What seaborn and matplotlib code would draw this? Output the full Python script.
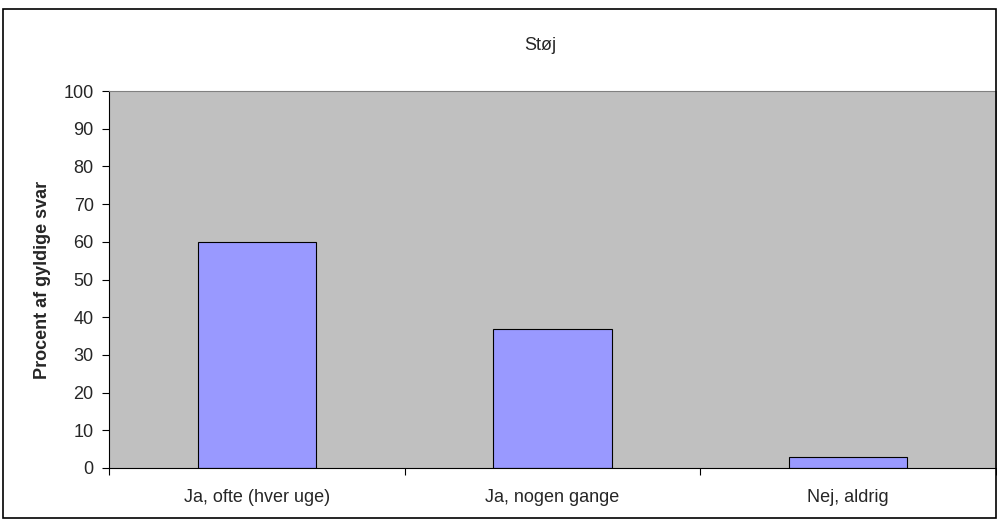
import seaborn as sns
import matplotlib.pyplot as plt
import matplotlib.patches as patches

categories = ['Ja, ofte (hver uge)', 'Ja, nogen gange', 'Nej, aldrig']
values = [60, 37, 3]

sns.set_style("white")
plt.rcParams['font.family'] = ['Liberation Sans', 'DejaVu Sans']

fig = plt.figure(figsize=(9.97, 5.19), dpi=100)
ax = fig.add_axes([109 / 997, 1 - 468 / 519, (996 - 109) / 997, (468 - 91) / 519])

sns.barplot(x=categories, y=values, color='#9999FF', saturation=1, width=0.4,
            edgecolor='black', linewidth=0.8, ax=ax)

ax.set_facecolor('#C0C0C0')
ax.set_ylim(0, 100)
ax.set_xlim(-0.5, 2.5)
ax.set_yticks(range(0, 101, 10))
ax.set_xticks([-0.5, 0.5, 1.5, 2.5], minor=True)
ax.tick_params(axis='x', which='major', bottom=False, length=0, labelsize=13, pad=15)
ax.tick_params(axis='x', which='minor', bottom=True, length=5, width=0.8,
               direction='out', color='black')
ax.tick_params(axis='y', left=True, length=5, width=0.8, labelsize=13,
               direction='out', color='black', pad=6)
ax.spines['left'].set_color('black')
ax.spines['bottom'].set_color('black')
ax.spines['left'].set_linewidth(0.8)
ax.spines['bottom'].set_linewidth(0.8)
ax.spines['top'].set_color('#808080')
ax.spines['top'].set_linewidth(0.8)
ax.spines['right'].set_color('#808080')
ax.spines['right'].set_linewidth(0.8)

ax.set_ylabel('Procent af gyldige svar', fontsize=13, fontweight='bold', labelpad=9)
ax.set_xlabel('')
fig.text(540 / 997, 1 - 45 / 519, 'Støj', ha='center', va='center', fontsize=13)

# outer frame
fig.patches.append(patches.Rectangle((3 / 997, 1 / 519), 993 / 997, 1 - 10 / 519,
                                     transform=fig.transFigure, fill=False,
                                     edgecolor='black', linewidth=1.2))

fig.savefig('out.png', dpi=100)
